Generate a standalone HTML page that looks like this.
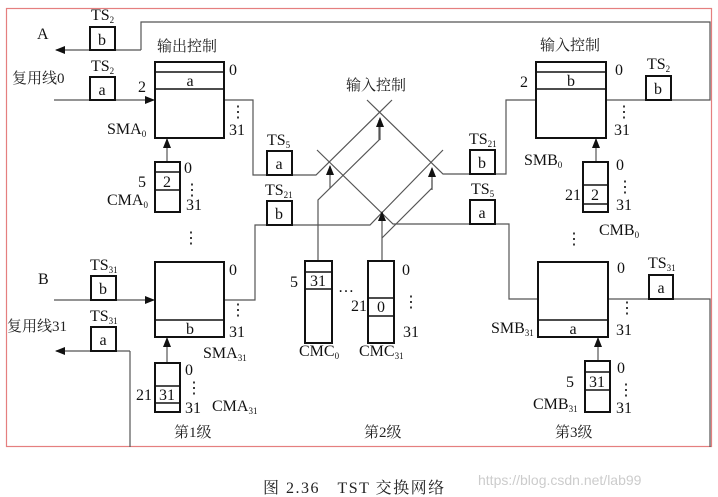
<!DOCTYPE html>
<html><head><meta charset="utf-8"><style>
html,body{margin:0;padding:0;background:#fff;}
svg{display:block;}
text{font-family:"Liberation Serif","Noto Serif CJK SC",serif;font-size:16px;fill:#111;}
.cn{font-family:"Liberation Serif","Noto Serif CJK SC",serif;font-size:15px;fill:#222;}
.l{stroke:#555;stroke-width:1.2;fill:none;}
.b{stroke:#111;stroke-width:2;fill:#fff;}
.d{stroke:#111;stroke-width:1.6;}
</style></head><body>
<svg width="718" height="497" viewBox="0 0 718 497" xmlns="http://www.w3.org/2000/svg">
<defs><marker id="ar" markerWidth="10" markerHeight="8" refX="9" refY="4" orient="auto" markerUnits="userSpaceOnUse"><path d="M0,0 L10,4 L0,8 Z" fill="#111"/></marker></defs>
<rect x="6.5" y="8.5" width="705" height="438" fill="none" stroke="#e57f7f" stroke-width="1.2"/>

<polyline class="l" points="141,50 141,22 710,22 710,100 606,100"/>
<line class="l" x1="141" y1="50" x2="56" y2="50" marker-end="url(#ar)"/>
<line class="l" x1="54" y1="100" x2="154" y2="100" marker-end="url(#ar)"/>
<line class="l" x1="54" y1="300" x2="154" y2="300" marker-end="url(#ar)"/>
<polyline class="l" points="130,447 130,351"/>
<line class="l" x1="130" y1="351" x2="56" y2="351" marker-end="url(#ar)"/>
<polyline class="l" points="224,100 253,100 253,175 316,175 392,100"/>
<polyline class="l" points="224,300 255,300 255,225 370,225 443,150"/>
<polyline class="l" points="536,100 506,100 506,174 443,174 367,100"/>
<polyline class="l" points="538,299 509,299 509,224 393,224 317,150"/>
<polyline class="l" points="608,299 710,299 710,447"/>
<polyline class="l" points="318,261 318,200 379,140 379,120"/>
<line class="l" x1="380" y1="140" x2="380" y2="118" marker-end="url(#ar)"/>
<line class="l" x1="330" y1="188" x2="330" y2="166" marker-end="url(#ar)"/>
<line class="l" x1="382" y1="261" x2="382" y2="212" marker-end="url(#ar)"/>
<polyline class="l" points="382,238 432,188 432,180"/>
<line class="l" x1="432" y1="190" x2="432" y2="168" marker-end="url(#ar)"/>
<line class="l" x1="167" y1="162" x2="167" y2="139" marker-end="url(#ar)"/>
<line class="l" x1="167" y1="363" x2="167" y2="338" marker-end="url(#ar)"/>
<line class="l" x1="596" y1="162" x2="596" y2="139" marker-end="url(#ar)"/>
<line class="l" x1="598" y1="361" x2="598" y2="338" marker-end="url(#ar)"/>

<g>
<rect class="b" x="90" y="27" width="25" height="23"/><text x="102" y="45" text-anchor="middle">b</text>
<rect class="b" x="90" y="77" width="25" height="23"/><text x="102" y="95" text-anchor="middle">a</text>
<rect class="b" x="91" y="276" width="25" height="24"/><text x="103" y="294" text-anchor="middle">b</text>
<rect class="b" x="91" y="327" width="25" height="24"/><text x="103" y="345" text-anchor="middle">a</text>
<rect class="b" x="267" y="151" width="25" height="24"/><text x="279" y="169" text-anchor="middle">a</text>
<rect class="b" x="267" y="201" width="25" height="24"/><text x="279" y="219" text-anchor="middle">b</text>
<rect class="b" x="470" y="150" width="25" height="24"/><text x="482" y="168" text-anchor="middle">b</text>
<rect class="b" x="470" y="200" width="25" height="24"/><text x="482" y="218" text-anchor="middle">a</text>
<rect class="b" x="646" y="76" width="25" height="24"/><text x="658" y="94" text-anchor="middle">b</text>
<rect class="b" x="649" y="275" width="24" height="24"/><text x="661" y="293" text-anchor="middle">a</text>
</g>
<text x="91" y="20">TS<tspan font-size="9" dy="3">2</tspan></text>
<text x="91" y="71">TS<tspan font-size="9" dy="3">2</tspan></text>
<text x="90" y="270">TS<tspan font-size="9" dy="3">31</tspan></text>
<text x="90" y="321">TS<tspan font-size="9" dy="3">31</tspan></text>
<text x="267" y="145">TS<tspan font-size="9" dy="3">5</tspan></text>
<text x="265" y="195">TS<tspan font-size="9" dy="3">21</tspan></text>
<text x="469" y="144">TS<tspan font-size="9" dy="3">21</tspan></text>
<text x="471" y="194">TS<tspan font-size="9" dy="3">5</tspan></text>
<text x="647" y="69">TS<tspan font-size="9" dy="3">2</tspan></text>
<text x="648" y="268">TS<tspan font-size="9" dy="3">31</tspan></text>

<rect class="b" x="155" y="62" width="69" height="76"/>
<line class="d" x1="155" y1="72" x2="224" y2="72"/><line class="d" x1="155" y1="89" x2="224" y2="89"/>
<text x="190" y="86" text-anchor="middle">a</text>
<rect class="b" x="155" y="262" width="69" height="75"/>
<line class="d" x1="155" y1="320" x2="224" y2="320"/>
<text x="190" y="334" text-anchor="middle">b</text>
<rect class="b" x="536" y="62" width="70" height="76"/>
<line class="d" x1="536" y1="72" x2="606" y2="72"/><line class="d" x1="536" y1="89" x2="606" y2="89"/>
<text x="571" y="86" text-anchor="middle">b</text>
<rect class="b" x="538" y="262" width="70" height="75"/>
<line class="d" x1="538" y1="320" x2="608" y2="320"/>
<text x="573" y="334" text-anchor="middle">a</text>
<rect class="b" x="155" y="162" width="25" height="50"/>
<line class="d" x1="155" y1="172" x2="180" y2="172"/><line class="d" x1="155" y1="190" x2="180" y2="190"/>
<text x="167" y="187" text-anchor="middle">2</text>
<rect class="b" x="155" y="363" width="25" height="49"/>
<line class="d" x1="155" y1="386" x2="180" y2="386"/><line class="d" x1="155" y1="403" x2="180" y2="403"/>
<text x="167" y="400" text-anchor="middle">31</text>
<rect class="b" x="583" y="162" width="25" height="50"/>
<line class="d" x1="583" y1="185" x2="608" y2="185"/><line class="d" x1="583" y1="204" x2="608" y2="204"/>
<text x="595" y="200" text-anchor="middle">2</text>
<rect class="b" x="585" y="361" width="25" height="51"/>
<line class="d" x1="585" y1="372" x2="610" y2="372"/><line class="d" x1="585" y1="390" x2="610" y2="390"/>
<text x="597" y="387" text-anchor="middle">31</text>
<rect class="b" x="305" y="261" width="27" height="82"/>
<line class="d" x1="305" y1="272" x2="332" y2="272"/><line class="d" x1="305" y1="289" x2="332" y2="289"/>
<text x="318" y="286" text-anchor="middle">31</text>
<rect class="b" x="368" y="261" width="26" height="82"/>
<line class="d" x1="368" y1="298" x2="394" y2="298"/><line class="d" x1="368" y1="316" x2="394" y2="316"/>
<text x="381" y="312" text-anchor="middle">0</text>

<text x="37" y="39">A</text>
<text x="38" y="284">B</text>
<text class="cn" x="12" y="83">复用线0</text>
<text class="cn" x="7" y="331">复用线31</text>
<text class="cn" x="157" y="51">输出控制</text>
<text class="cn" x="540" y="50">输入控制</text>
<text class="cn" x="346" y="90">输入控制</text>
<text x="138" y="92">2</text>
<text x="520" y="87">2</text>
<text x="229" y="75">0</text><text x="230" y="117">⋮</text><text x="229" y="135">31</text>
<text x="229" y="275">0</text><text x="230" y="315">⋮</text><text x="229" y="337">31</text>
<text x="615" y="75">0</text><text x="616" y="117">⋮</text><text x="614" y="135">31</text>
<text x="617" y="273">0</text><text x="619" y="313">⋮</text><text x="616" y="335">31</text>
<text x="184" y="173">0</text><text x="184" y="195">⋮</text><text x="186" y="210">31</text>
<text x="185" y="375">0</text><text x="186" y="393">⋮</text><text x="185" y="413">31</text>
<text x="616" y="170">0</text><text x="617" y="192">⋮</text><text x="616" y="210">31</text>
<text x="617" y="373">0</text><text x="618" y="395">⋮</text><text x="616" y="413">31</text>
<text x="402" y="275">0</text><text x="403" y="307">⋮</text><text x="403" y="337">31</text>
<text x="138" y="187">5</text>
<text x="136" y="400">21</text>
<text x="565" y="200">21</text>
<text x="566" y="387">5</text>
<text x="290" y="287">5</text>
<text x="351" y="311">21</text>
<text x="338" y="292">…</text>
<text x="183" y="243">⋮</text>
<text x="566" y="244">⋮</text>
<text x="107" y="134">SMA<tspan font-size="9" dy="3">0</tspan></text>
<text x="107" y="205">CMA<tspan font-size="9" dy="3">0</tspan></text>
<text x="203" y="358">SMA<tspan font-size="9" dy="3">31</tspan></text>
<text x="212" y="411">CMA<tspan font-size="9" dy="3">31</tspan></text>
<text x="524" y="165">SMB<tspan font-size="9" dy="3">0</tspan></text>
<text x="599" y="235">CMB<tspan font-size="9" dy="3">0</tspan></text>
<text x="491" y="333">SMB<tspan font-size="9" dy="3">31</tspan></text>
<text x="533" y="409">CMB<tspan font-size="9" dy="3">31</tspan></text>
<text x="299" y="356">CMC<tspan font-size="9" dy="3">0</tspan></text>
<text x="359" y="356">CMC<tspan font-size="9" dy="3">31</tspan></text>
<text class="cn" x="174" y="437">第1级</text>
<text class="cn" x="364" y="437">第2级</text>
<text class="cn" x="555" y="437">第3级</text>
<text class="cn" x="263" y="493" style="font-size:16px;letter-spacing:1.5px">图 2.36　TST 交换网络</text>
<text x="478" y="485" style="font-family:'Liberation Sans',sans-serif;font-size:14px;fill:#ccc">https://blog.csdn.net/lab99</text>
</svg>
</body></html>
